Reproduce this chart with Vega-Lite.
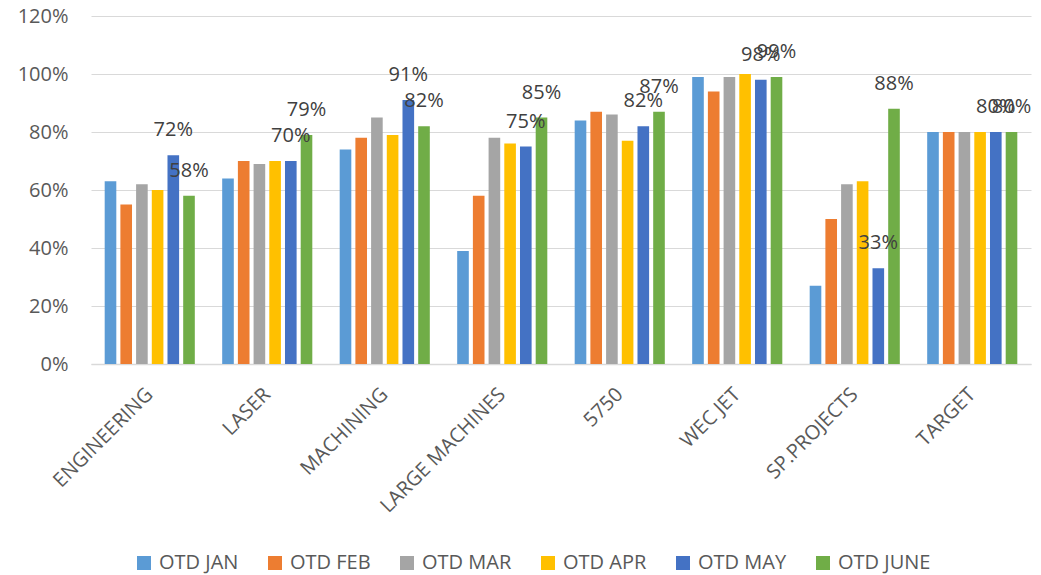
{
  "$schema": "https://vega.github.io/schema/vega-lite/v6.json",
  "width": 940,
  "height": 348,
  "autosize": "none",
  "padding": {"left": 91, "top": 16, "right": 10, "bottom": 211},
  "background": "white",
  "config": {
    "font": "Open Sans",
    "view": {"stroke": null},
    "axis": {"labelFont": "Open Sans", "labelColor": "#595959", "labelFontSize": 20, "ticks": false, "title": null}
  },
  "data": {
    "values": [
      {"dept": "ENGINEERING", "month": "OTD JAN", "value": 0.63},
      {"dept": "ENGINEERING", "month": "OTD FEB", "value": 0.55},
      {"dept": "ENGINEERING", "month": "OTD MAR", "value": 0.62},
      {"dept": "ENGINEERING", "month": "OTD APR", "value": 0.60},
      {"dept": "ENGINEERING", "month": "OTD MAY", "value": 0.72},
      {"dept": "ENGINEERING", "month": "OTD JUNE", "value": 0.58},
      {"dept": "LASER", "month": "OTD JAN", "value": 0.64},
      {"dept": "LASER", "month": "OTD FEB", "value": 0.70},
      {"dept": "LASER", "month": "OTD MAR", "value": 0.69},
      {"dept": "LASER", "month": "OTD APR", "value": 0.70},
      {"dept": "LASER", "month": "OTD MAY", "value": 0.70},
      {"dept": "LASER", "month": "OTD JUNE", "value": 0.79},
      {"dept": "MACHINING", "month": "OTD JAN", "value": 0.74},
      {"dept": "MACHINING", "month": "OTD FEB", "value": 0.78},
      {"dept": "MACHINING", "month": "OTD MAR", "value": 0.85},
      {"dept": "MACHINING", "month": "OTD APR", "value": 0.79},
      {"dept": "MACHINING", "month": "OTD MAY", "value": 0.91},
      {"dept": "MACHINING", "month": "OTD JUNE", "value": 0.82},
      {"dept": "LARGE MACHINES", "month": "OTD JAN", "value": 0.39},
      {"dept": "LARGE MACHINES", "month": "OTD FEB", "value": 0.58},
      {"dept": "LARGE MACHINES", "month": "OTD MAR", "value": 0.78},
      {"dept": "LARGE MACHINES", "month": "OTD APR", "value": 0.76},
      {"dept": "LARGE MACHINES", "month": "OTD MAY", "value": 0.75},
      {"dept": "LARGE MACHINES", "month": "OTD JUNE", "value": 0.85},
      {"dept": "5750", "month": "OTD JAN", "value": 0.84},
      {"dept": "5750", "month": "OTD FEB", "value": 0.87},
      {"dept": "5750", "month": "OTD MAR", "value": 0.86},
      {"dept": "5750", "month": "OTD APR", "value": 0.77},
      {"dept": "5750", "month": "OTD MAY", "value": 0.82},
      {"dept": "5750", "month": "OTD JUNE", "value": 0.87},
      {"dept": "WEC JET", "month": "OTD JAN", "value": 0.99},
      {"dept": "WEC JET", "month": "OTD FEB", "value": 0.94},
      {"dept": "WEC JET", "month": "OTD MAR", "value": 0.99},
      {"dept": "WEC JET", "month": "OTD APR", "value": 1.00},
      {"dept": "WEC JET", "month": "OTD MAY", "value": 0.98},
      {"dept": "WEC JET", "month": "OTD JUNE", "value": 0.99},
      {"dept": "SP.PROJECTS", "month": "OTD JAN", "value": 0.27},
      {"dept": "SP.PROJECTS", "month": "OTD FEB", "value": 0.50},
      {"dept": "SP.PROJECTS", "month": "OTD MAR", "value": 0.62},
      {"dept": "SP.PROJECTS", "month": "OTD APR", "value": 0.63},
      {"dept": "SP.PROJECTS", "month": "OTD MAY", "value": 0.33},
      {"dept": "SP.PROJECTS", "month": "OTD JUNE", "value": 0.88},
      {"dept": "TARGET", "month": "OTD JAN", "value": 0.80},
      {"dept": "TARGET", "month": "OTD FEB", "value": 0.80},
      {"dept": "TARGET", "month": "OTD MAR", "value": 0.80},
      {"dept": "TARGET", "month": "OTD APR", "value": 0.80},
      {"dept": "TARGET", "month": "OTD MAY", "value": 0.80},
      {"dept": "TARGET", "month": "OTD JUNE", "value": 0.80}
    ]
  },
  "encoding": {
    "x": {
      "field": "dept",
      "type": "nominal",
      "sort": null,
      "scale": {"paddingInner": 0.233, "paddingOuter": 0.1165},
      "axis": {
        "labelAngle": -45,
        "labelAlign": "right",
        "labelBaseline": "middle",
        "labelPadding": 27,
        "domain": true,
        "domainColor": "#d9d9d9",
        "domainWidth": 1.5,
        "grid": false,
        "labelOverlap": false
      }
    },
    "xOffset": {
      "field": "month",
      "type": "nominal",
      "sort": ["OTD JAN", "OTD FEB", "OTD MAR", "OTD APR", "OTD MAY", "OTD JUNE"],
      "scale": {"paddingInner": 0.26, "paddingOuter": 0}
    },
    "y": {
      "field": "value",
      "type": "quantitative",
      "scale": {"domain": [0, 1.2], "nice": false},
      "axis": {
        "values": [0, 0.2, 0.4, 0.6, 0.8, 1.0, 1.2],
        "format": ".0%",
        "domain": false,
        "grid": true,
        "gridColor": "#d9d9d9",
        "gridWidth": 1,
        "labelPadding": 23
      }
    }
  },
  "layer": [
    {
      "mark": {"type": "bar"},
      "encoding": {
        "color": {
          "field": "month",
          "type": "nominal",
          "scale": {
            "domain": ["OTD JAN", "OTD FEB", "OTD MAR", "OTD APR", "OTD MAY", "OTD JUNE"],
            "range": ["#5B9BD5", "#ED7D31", "#A5A5A5", "#FFC000", "#4472C4", "#70AD47"]
          },
          "legend": {
            "title": null,
            "orient": "none",
            "direction": "horizontal",
            "legendX": 43,
            "legendY": 537,
            "symbolType": "square",
            "symbolSize": 196,
            "symbolStrokeWidth": 0,
            "labelFont": "Open Sans",
            "labelFontSize": 20,
            "labelColor": "#595959",
            "labelOffset": 5,
            "columnPadding": 26,
            "labelLimit": 300
          }
        }
      }
    },
    {
      "transform": [{"filter": "datum.month === 'OTD MAY' || datum.month === 'OTD JUNE'"}],
      "mark": {"type": "text", "font": "Open Sans", "fontSize": 20, "color": "#404040", "baseline": "middle", "dy": -25},
      "encoding": {
        "text": {"field": "value", "type": "quantitative", "format": ".0%"}
      }
    }
  ]
}
